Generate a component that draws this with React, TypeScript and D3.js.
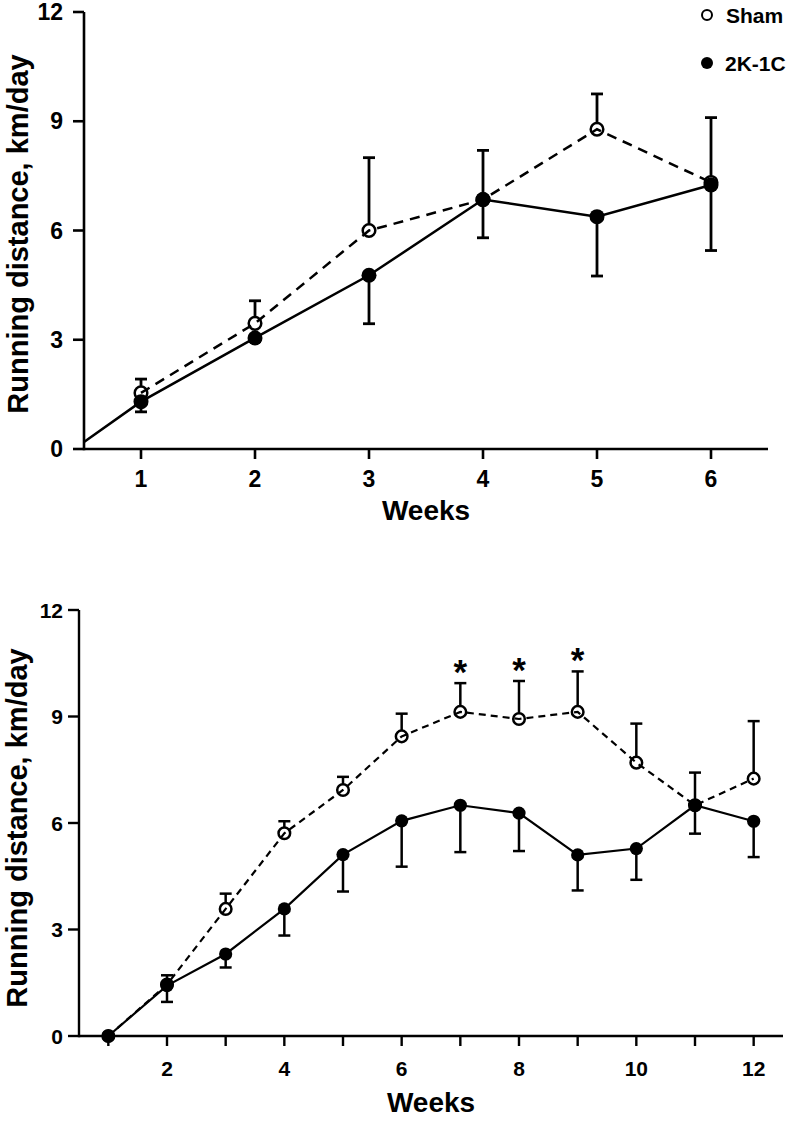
import React from "react";
import * as d3 from "d3";

// ---------- Data ----------
// Top panel (weeks 1-6)
const topWeeks = [1, 2, 3, 4, 5, 6];
const topSham = [1.54, 3.45, 6.0, 6.85, 8.78, 7.32];
const topShamSem = [0.38, 0.62, 2.0, 1.35, 0.97, 1.78];
const top2K1C = [1.3, 3.05, 4.77, 6.85, 6.38, 7.25];
const top2K1CSem = [0.28, 0.1, 1.33, 1.05, 1.63, 1.8];
const topLineStart = { week: 0.5, value: 0.19 };
const topXTicks = [1, 2, 3, 4, 5, 6];

// Bottom panel (weeks 1-12)
const botWeeks = [1, 2, 3, 4, 5, 6, 7, 8, 9, 10, 11, 12];
const botSham = [0, 1.45, 3.58, 5.71, 6.93, 8.44, 9.13, 8.93, 9.13, 7.7, 6.5, 7.25];
const botShamSem = [0, 0.26, 0.43, 0.34, 0.37, 0.64, 0.81, 1.07, 1.14, 1.1, 0.92, 1.62];
const bot2K1C = [0, 1.42, 2.31, 3.58, 5.11, 6.06, 6.5, 6.28, 5.1, 5.28, 6.5, 6.05];
const bot2K1CSem = [0, 0.46, 0.38, 0.75, 1.04, 1.29, 1.32, 1.07, 1.0, 0.88, 0.8, 1.01];
const botSignificant = [7, 8, 9];
const botXTicks = [1, 2, 3, 4, 5, 6, 7, 8, 9, 10, 11, 12];
const botXTickLabels = [2, 4, 6, 8, 10, 12];

const yTicks = [0, 3, 6, 9, 12];
const legendLabels = ["Sham", "2K-1C"];
const yTitle = "Running distance, km/day";
const xTitle = "Weeks";

const FONT = "Arial, 'Liberation Sans', Helvetica, sans-serif";

type PanelProps = {
  x: d3.ScaleLinear<number, number>;
  y: d3.ScaleLinear<number, number>;
  weeks: number[];
  sham: number[];
  shamSem: number[];
  k: number[];
  kSem: number[];
  xTicks: number[];
  xTickLabels: number[];
  tickFont: number;
  yLabelX: number;
  yLabelY: number;
  xTitleBaseline: number;
  xTickBaseline: number;
  lineWidth: number;
  axisWidth: number;
  dash: string;
  rOpen: number;
  rFilled: number;
  capHalf: number;
  start?: { week: number; value: number } | null;
  significant?: number[];
  yTickLabelGap: number;
};

function Panel(p: PanelProps) {
  const { x, y } = p;
  const [x0, x1] = x.range();
  const [y0, y1] = y.range();
  const kPts: [number, number][] = p.weeks.map((w, i) => [x(w), y(p.k[i])]);
  if (p.start) kPts.unshift([x(p.start.week), y(p.start.value)]);
  const sPts: [number, number][] = p.weeks.map((w, i) => [x(w), y(p.sham[i])]);
  const line = d3.line();
  return (
    <g fontFamily={FONT} fontWeight="bold" fill="#000">
      {/* axes */}
      <line x1={x0} x2={x1} y1={y0} y2={y0} stroke="#000" strokeWidth={p.axisWidth} />
      <line x1={x0} x2={x0} y1={y0 + p.axisWidth / 2} y2={y1} stroke="#000" strokeWidth={p.axisWidth} />
      {yTicks.map((t) => (
        <g key={"yt" + t}>
          <line x1={x0 - 11} x2={x0} y1={y(t)} y2={y(t)} stroke="#000" strokeWidth={p.axisWidth} />
          <text x={x0 - p.yTickLabelGap} y={y(t) + 0.358 * p.tickFont} fontSize={p.tickFont} textAnchor="end">
            {t}
          </text>
        </g>
      ))}
      {p.xTicks.map((t) => (
        <line key={"xt" + t} x1={x(t)} x2={x(t)} y1={y0} y2={y0 + 10} stroke="#000" strokeWidth={p.axisWidth} />
      ))}
      {p.xTickLabels.map((t) => (
        <text key={"xl" + t} x={x(t)} y={p.xTickBaseline} fontSize={p.tickFont} textAnchor="middle">
          {t}
        </text>
      ))}
      <text x={(x0 + x1) / 2} y={p.xTitleBaseline} fontSize={28} textAnchor="middle">
        {xTitle}
      </text>
      <text transform={`translate(${p.yLabelX},${p.yLabelY}) rotate(-90)`} fontSize={29} textAnchor="middle">
        {yTitle}
      </text>

      {/* error bars */}
      {p.weeks.map((w, i) =>
        p.shamSem[i] > 0 ? (
          <g key={"es" + w} stroke="#000" strokeWidth={p.lineWidth + 0.3}>
            <line x1={x(w)} x2={x(w)} y1={y(p.sham[i]) - p.rOpen} y2={y(p.sham[i] + p.shamSem[i])} />
            <line x1={x(w) - p.capHalf} x2={x(w) + p.capHalf} y1={y(p.sham[i] + p.shamSem[i])} y2={y(p.sham[i] + p.shamSem[i])} />
          </g>
        ) : null
      )}
      {p.weeks.map((w, i) =>
        p.kSem[i] > 0 ? (
          <g key={"ek" + w} stroke="#000" strokeWidth={p.lineWidth + 0.3}>
            <line x1={x(w)} x2={x(w)} y1={y(p.k[i])} y2={y(p.k[i] - p.kSem[i])} />
            <line x1={x(w) - p.capHalf} x2={x(w) + p.capHalf} y1={y(p.k[i] - p.kSem[i])} y2={y(p.k[i] - p.kSem[i])} />
          </g>
        ) : null
      )}

      {/* lines */}
      <path d={line(kPts) || ""} fill="none" stroke="#000" strokeWidth={p.lineWidth} />
      <path d={line(sPts) || ""} fill="none" stroke="#000" strokeWidth={p.lineWidth} strokeDasharray={p.dash} />

      {/* markers */}
      {p.weeks.map((w, i) => (
        <circle key={"mk" + w} cx={x(w)} cy={y(p.k[i])} r={p.rFilled} fill="#000" />
      ))}
      {p.weeks.map((w, i) => (
        <circle key={"ms" + w} cx={x(w)} cy={y(p.sham[i])} r={p.rOpen} fill="none" stroke="#000" strokeWidth={2.5} />
      ))}

      {/* significance */}
      {(p.significant || []).map((w) => {
        const i = p.weeks.indexOf(w);
        const cy = y(p.sham[i] + p.shamSem[i]) - 19;
        return (
          <text key={"sig" + w} x={x(w)} y={cy + 20} fontSize={35} textAnchor="middle">
            *
          </text>
        );
      })}
    </g>
  );
}

export default function App() {
  const xTop = d3.scaleLinear().domain([0.5, 6.5]).range([84, 768]);
  const yTop = d3.scaleLinear().domain([0, 12]).range([449, 12]);
  const xBot = d3.scaleLinear().domain([0.5, 12.5]).range([79, 783]);
  const yBot = d3.scaleLinear().domain([0, 12]).range([1036, 610]);

  return (
    <svg
      width={799}
      height={1121}
      viewBox="0 0 799 1121"
      style={{ position: "absolute", left: 0, top: 0, background: "#fff" }}
    >
      <rect x={0} y={0} width={799} height={1121} fill="#fff" />
      <Panel
        x={xTop}
        y={yTop}
        weeks={topWeeks}
        sham={topSham}
        shamSem={topShamSem}
        k={top2K1C}
        kSem={top2K1CSem}
        xTicks={topXTicks}
        xTickLabels={topXTicks}
        tickFont={23}
        yLabelX={28}
        yLabelY={234}
        xTitleBaseline={520}
        xTickBaseline={487}
        lineWidth={2.5}
        axisWidth={2.6}
        dash="10,7"
        rOpen={6.3}
        rFilled={7.5}
        capHalf={6}
        start={topLineStart}
        yTickLabelGap={21}
      />
      <Panel
        x={xBot}
        y={yBot}
        weeks={botWeeks}
        sham={botSham}
        shamSem={botShamSem}
        k={bot2K1C}
        kSem={bot2K1CSem}
        xTicks={botXTicks}
        xTickLabels={botXTickLabels}
        tickFont={21}
        yLabelX={27}
        yLabelY={828}
        xTitleBaseline={1112}
        xTickBaseline={1076}
        lineWidth={2.2}
        axisWidth={2.4}
        dash="7,5"
        rOpen={5.8}
        rFilled={6.6}
        capHalf={6}
        start={null}
        significant={botSignificant}
        yTickLabelGap={16}
      />
      {/* legend */}
      <g fontFamily={FONT} fontWeight="bold" fontSize={21}>
        <circle cx={707} cy={15} r={5} fill="none" stroke="#000" strokeWidth={2} />
        <text x={726} y={15 + 0.358 * 21}>{legendLabels[0]}</text>
        <circle cx={707} cy={63} r={6} fill="#000" />
        <text x={725} y={63 + 0.358 * 21}>{legendLabels[1]}</text>
      </g>
    </svg>
  );
}
